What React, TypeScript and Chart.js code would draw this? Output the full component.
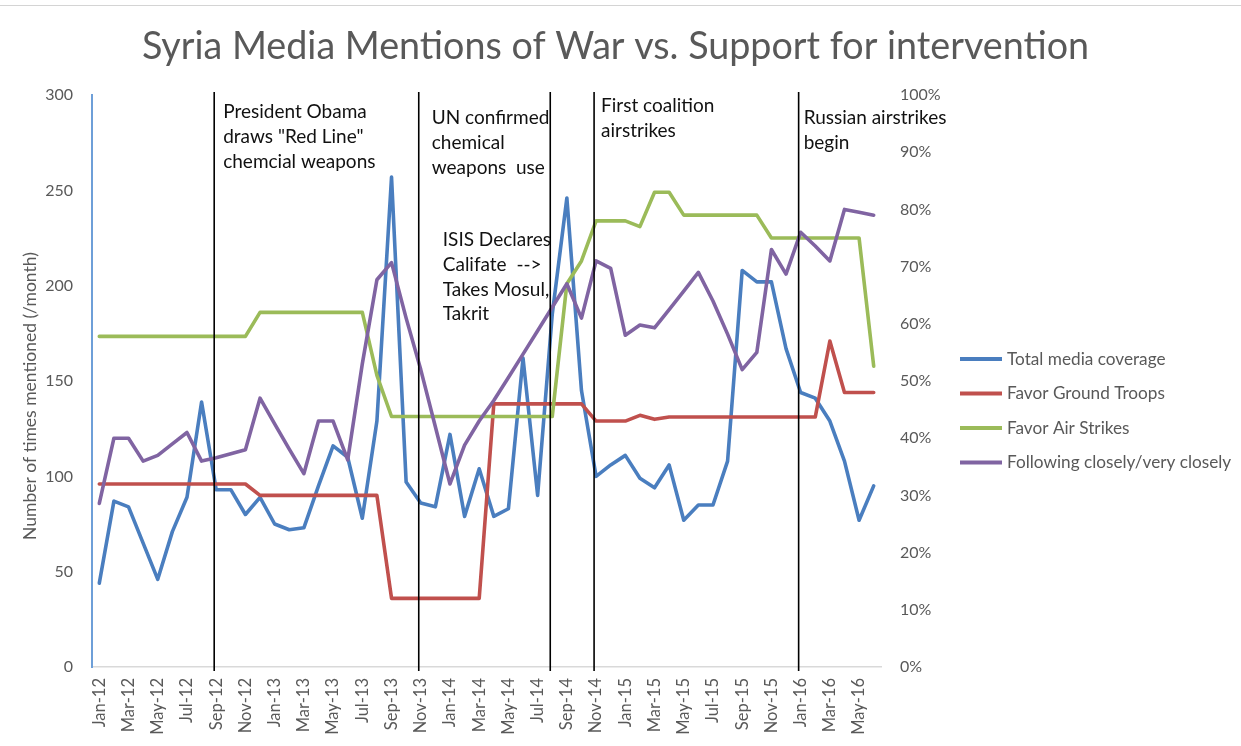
import React, { useEffect, useRef } from 'react';
import { Chart, registerables } from 'chart.js';

Chart.register(...registerables);

// ---------- data ----------
const months = [
  'Jan-12', 'Feb-12', 'Mar-12', 'Apr-12', 'May-12', 'Jun-12', 'Jul-12', 'Aug-12', 'Sep-12', 'Oct-12', 'Nov-12', 'Dec-12',
  'Jan-13', 'Feb-13', 'Mar-13', 'Apr-13', 'May-13', 'Jun-13', 'Jul-13', 'Aug-13', 'Sep-13', 'Oct-13', 'Nov-13', 'Dec-13',
  'Jan-14', 'Feb-14', 'Mar-14', 'Apr-14', 'May-14', 'Jun-14', 'Jul-14', 'Aug-14', 'Sep-14', 'Oct-14', 'Nov-14', 'Dec-14',
  'Jan-15', 'Feb-15', 'Mar-15', 'Apr-15', 'May-15', 'Jun-15', 'Jul-15', 'Aug-15', 'Sep-15', 'Oct-15', 'Nov-15', 'Dec-15',
  'Jan-16', 'Feb-16', 'Mar-16', 'Apr-16', 'May-16', 'Jun-16',
];

// Total media coverage (mentions per month, left axis)
const totalMedia = [
  44, 87, 84, 65, 46, 71, 89, 139, 93, 93, 80, 89,
  75, 72, 73, 95, 116, 110, 78, 129, 257, 97, 86, 84,
  122, 79, 104, 79, 83, 162, 90, 185, 246, 145, 100, 106,
  111, 99, 94, 106, 77, 85, 85, 108, 208, 202, 202, 167,
  144, 141, 129, 108, 77, 95,
];

// Favor Ground Troops (%, right axis)
const groundTroops = [
  32, 32, 32, 32, 32, 32, 32, 32, 32, 32, 32, 30,
  30, 30, 30, 30, 30, 30, 30, 30, 12, 12, 12, 12,
  12, 12, 12, 46, 46, 46, 46, 46, 46, 46, 43, 43,
  43, 44, 43.3, 43.7, 43.7, 43.7, 43.7, 43.7, 43.7, 43.7, 43.7, 43.7,
  43.7, 43.7, 57, 48, 48, 48,
];

// Favor Air Strikes (%, right axis)
const airStrikes = [
  57.8, 57.8, 57.8, 57.8, 57.8, 57.8, 57.8, 57.8, 57.8, 57.8, 57.8, 62,
  62, 62, 62, 62, 62, 62, 62, 51, 43.8, 43.8, 43.8, 43.8,
  43.8, 43.8, 43.8, 43.8, 43.8, 43.8, 43.8, 43.8, 67, 71, 78, 78,
  78, 77, 83, 83, 79, 79, 79, 79, 79, 79, 75, 75,
  75, 75, 75, 75, 75, 52.6,
];

// Following closely / very closely (%, right axis)
const following = [
  28.6, 40, 40, 36, 37, 39, 41, 36, 36.6, 37.3, 38, 47,
  42.5, 38.1, 33.8, 43, 43, 36.2, 53, 67.7, 70.7, 61, 52, 42,
  32, 38.8, 43, 46.6, 50.6, 54.7, 58.8, 62.9, 67, 61, 71, 69.7,
  58, 59.8, 59.3, 62.5, 65.7, 69, 64, 58.2, 52, 55, 73, 68.7,
  76, 73.6, 71, 80, 79.5, 79,
];

const seriesNames = [
  'Total media coverage',
  'Favor Ground Troops',
  'Favor Air Strikes',
  'Following closely/very closely',
];

// Event markers (vertical lines)
const eventMonths = ['Sep-12', 'Nov-13', 'Aug-14', 'Nov-14', 'Jan-16'];

// Annotation texts
const noteTexts = [
  ['President Obama', 'draws "Red Line"', 'chemcial weapons'],
  ['UN confirmed', 'chemical', 'weapons  use'],
  ['ISIS Declares', 'Califate  -->', 'Takes Mosul,', 'Takrit'],
  ['First coalition', 'airstrikes'],
  ['Russian airstrikes', 'begin'],
];
const noteAnchors = ['Sep-12', 'Nov-13', 'Nov-13', 'Nov-14', 'Jan-16'];

const yAxisTitle = 'Number of times mentioned (/month)';

// ---------- layout / style ----------
const noteLayout = [
  { dx: 7, dy: 17 },
  { dx: 11, dy: 23 },
  { dx: 22, dy: 145 },
  { dx: 5, dy: 11 },
  { dx: 3, dy: 23 },
];
const NOTE_LINE_H = 24.7;
const FONT = 'Lato, "Open Sans", sans-serif';
const GREY = '#595959';
const COLORS = ['#4A7EBF', '#C0504D', '#9BBB59', '#8064A2'];

const decorPlugin = {
  id: 'decor',
  afterDatasetsDraw(chart: any) {
    const { ctx, chartArea, scales } = chart;
    const x = scales.x;
    ctx.save();
    // event lines
    ctx.strokeStyle = '#000';
    ctx.lineWidth = 1.6;
    eventMonths.forEach((m) => {
      const px = x.getPixelForValue(months.indexOf(m)) - 2;
      ctx.beginPath();
      ctx.moveTo(px, chartArea.top - 3);
      ctx.lineTo(px, chartArea.bottom + 4);
      ctx.stroke();
    });
    // annotations
    ctx.fillStyle = '#111';
    ctx.font = `19px ${FONT}`;
    ctx.textBaseline = 'middle';
    ctx.textAlign = 'left';
    noteTexts.forEach((lines, i) => {
      const px = x.getPixelForValue(months.indexOf(noteAnchors[i])) + noteLayout[i].dx;
      lines.forEach((t, j) => {
        ctx.fillText(t, px, chartArea.top + noteLayout[i].dy + j * NOTE_LINE_H);
      });
    });
    // left axis title
    ctx.save();
    ctx.fillStyle = GREY;
    ctx.font = `17.5px ${FONT}`;
    ctx.textAlign = 'center';
    ctx.translate(30, (chartArea.top + chartArea.bottom) / 2 + 15);
    ctx.rotate(-Math.PI / 2);
    ctx.fillText(yAxisTitle, 0, 0);
    ctx.restore();
    // legend
    ctx.font = `17.2px ${FONT}`;
    ctx.textAlign = 'left';
    chart.data.datasets.forEach((ds: any, i: number) => {
      const ly = 359 + i * 34.5;
      const lx = chartArea.right + 79;
      ctx.fillStyle = ds.borderColor;
      ctx.fillRect(lx, ly - 2, 42, 4);
      ctx.fillStyle = GREY;
      ctx.fillText(ds.label, lx + 47, ly);
    });
    ctx.restore();
  },
};

export default function App() {
  const ref = useRef<HTMLCanvasElement | null>(null);

  useEffect(() => {
    if (!ref.current) return;
    const seriesData = [totalMedia, groundTroops, airStrikes, following];
    const chart = new Chart(ref.current, {
      type: 'line',
      data: {
        labels: months,
        datasets: seriesData.map((d, i) => ({
          label: seriesNames[i],
          data: d,
          yAxisID: i === 0 ? 'y' : 'y1',
          borderColor: COLORS[i],
          backgroundColor: COLORS[i],
          borderWidth: 3.6,
          pointRadius: 0,
          tension: 0,
          borderJoinStyle: 'round' as const,
          borderCapStyle: 'round' as const,
          order: 4 - i,
        })),
      },
      options: {
        animation: false,
        responsive: false,
        maintainAspectRatio: false,
        layout: { padding: { top: 0, right: 10, bottom: 0, left: 0 } },
        plugins: {
          title: {
            display: true,
            text: 'Syria Media Mentions of War vs. Support for intervention',
            color: GREY,
            font: { family: FONT, size: 37.7, weight: 'normal' },
            padding: { top: 24.5, bottom: 25.3 },
          },
          legend: { display: false },
          tooltip: { enabled: false },
        },
        scales: {
          x: {
            type: 'category',
            offset: true,
            grid: { display: false, drawTicks: false },
            border: { display: true, color: '#d9d9d9', width: 1.5 },
            ticks: {
              autoSkip: false,
              maxRotation: 90,
              minRotation: 90,
              padding: 11,
              color: GREY,
              font: { family: FONT, size: 16.5 },
              callback: (v: any, idx: number) => (idx % 2 === 0 ? months[idx] : null),
            },
            afterFit: (s: any) => {
              s.height = 79;
            },
          },
          y: {
            position: 'left',
            min: 0,
            max: 300,
            grid: { display: false, drawTicks: false },
            border: { display: true, color: '#6E9FD8', width: 2 },
            ticks: {
              stepSize: 50,
              padding: 19,
              color: GREY,
              font: { family: FONT, size: 16 },
            },
            afterFit: (s: any) => {
              s.width = 92;
            },
          },
          y1: {
            position: 'right',
            min: 0,
            max: 100,
            grid: { display: false, drawTicks: false },
            border: { display: false },
            ticks: {
              stepSize: 10,
              padding: 19,
              color: GREY,
              font: { family: FONT, size: 16 },
              callback: (v: any) => `${v}%`,
            },
            afterFit: (s: any) => {
              s.width = 350;
            },
          },
        },
      } as any,
      plugins: [decorPlugin],
    });
    return () => chart.destroy();
  }, []);

  return (
    <div
      style={{
        position: 'absolute',
        left: 0,
        top: 0,
        width: 1241,
        height: 746,
        background: '#fff',
        overflow: 'hidden',
      }}
    >
      <div style={{ position: 'absolute', left: 0, top: 5, width: 1241, height: 1, background: '#d4d4d4' }} />
      <canvas ref={ref} width={1241} height={746} style={{ position: 'absolute', left: 0, top: 0, width: 1241, height: 746 }} />
    </div>
  );
}
